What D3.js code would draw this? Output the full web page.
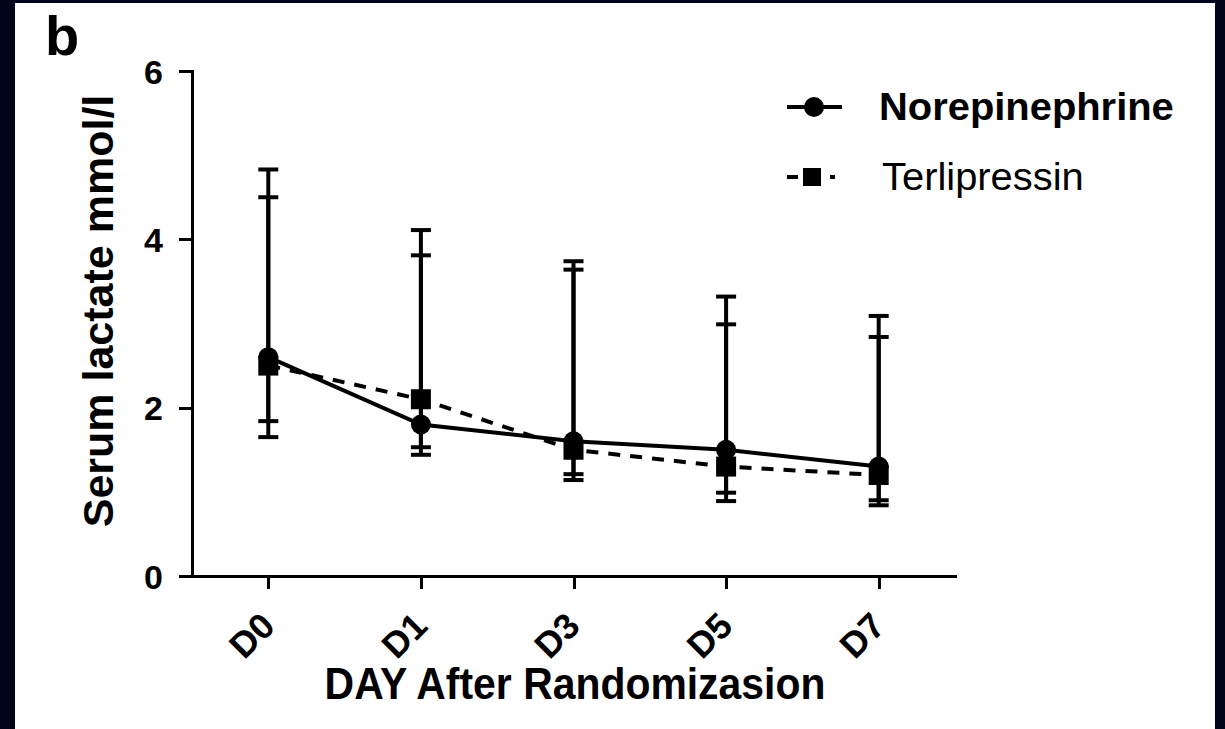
<!DOCTYPE html>
<html>
<head>
<meta charset="utf-8">
<script src="https://cdn.jsdelivr.net/npm/d3@7"></script>
<style>
  html, body { margin: 0; padding: 0; background: #02041a; }
  svg { display: block; }
  text { font-family: "Liberation Sans", Arial, Helvetica, sans-serif; fill: #000; }
</style>
</head>
<body>
<svg id="chart" width="1225" height="729"></svg>
<script>
// Serum lactate by day after randomization (median with range bars)
const days = ["D0", "D1", "D3", "D5", "D7"];
const norepinephrine      = [2.6, 1.8, 1.6, 1.5, 1.3];
const norepinephrineUpper = [4.83, 4.11, 3.74, 3.32, 3.09];
const norepinephrineLower = [1.84, 1.53, 1.21, 0.99, 0.90];
const terlipressin        = [2.5, 2.1, 1.5, 1.3, 1.2];
const terlipressinUpper   = [4.50, 3.81, 3.64, 2.99, 2.84];
const terlipressinLower   = [1.65, 1.44, 1.14, 0.89, 0.84];
const yTicks = [0, 2, 4, 6];

const series = [
  { name: "Norepinephrine", values: norepinephrine, upper: norepinephrineUpper, lower: norepinephrineLower, marker: "circle", dash: null, weight: "bold" },
  { name: "Terlipressin", values: terlipressin, upper: terlipressinUpper, lower: terlipressinLower, marker: "square", dash: "12,10", weight: "normal" }
];

const svg = d3.select("#chart");
const LW = 4;             // mark stroke width

// white panel
svg.append("rect").attr("x", 15).attr("y", 3).attr("width", 1200).attr("height", 726).attr("fill", "#fff");

const x = d3.scalePoint().domain(days).range([192, 955]).padding(0.5);
const y = d3.scaleLinear().domain([0, 6]).range([576, 71]);

// y axis
const yAxis = svg.append("g")
  .attr("transform", "translate(192,0)")
  .call(d3.axisLeft(y).tickValues(yTicks).tickFormat(d3.format("d")).tickSize(13).tickSizeOuter(0));
yAxis.select(".domain").attr("stroke", "#000").attr("stroke-width", 3).attr("stroke-linecap", "square");
yAxis.selectAll(".tick line").attr("stroke", "#000").attr("stroke-width", 3);
yAxis.selectAll(".tick text")
  .attr("x", null).attr("dy", null)
  .attr("text-anchor", "end")
  .attr("font-size", 34).attr("font-weight", "bold")
  .attr("transform", "translate(-29,12)");

// x axis
const xAxis = svg.append("g")
  .attr("transform", "translate(0,576)")
  .call(d3.axisBottom(x).tickSize(13).tickSizeOuter(0));
xAxis.select(".domain").attr("stroke", "#000").attr("stroke-width", 3).attr("stroke-linecap", "square");
xAxis.selectAll(".tick line").attr("stroke", "#000").attr("stroke-width", 3);
xAxis.selectAll(".tick text")
  .attr("y", null).attr("dy", null)
  .attr("text-anchor", "end")
  .attr("font-size", 36).attr("font-weight", "bold")
  .attr("transform", "translate(8,52) rotate(-45)");
svg.selectAll(".domain, .tick line").attr("shape-rendering", "crispEdges");

// axis titles
svg.append("text")
  .attr("transform", "translate(575,699) scale(0.93,1)")
  .attr("text-anchor", "middle").attr("font-size", 44).attr("font-weight", "bold")
  .text("DAY After Randomizasion");
svg.append("text")
  .attr("transform", "translate(113,311) rotate(-90)")
  .attr("text-anchor", "middle").attr("font-size", 43).attr("font-weight", "bold")
  .text("Serum lactate mmol/l");

// panel letter
svg.append("text").attr("x", 45).attr("y", 55)
  .attr("font-size", 56).attr("font-weight", "bold").text("b");

const plot = svg.append("g");

// error bars
const capW = 10;
series.forEach(s => {
  const g = plot.append("g");
  days.forEach((d, i) => {
    const cx = x(d);
    g.append("line").attr("x1", cx).attr("x2", cx)
      .attr("y1", y(s.lower[i])).attr("y2", y(s.upper[i]))
      .attr("stroke", "#000").attr("stroke-width", LW);
    [s.lower[i], s.upper[i]].forEach(v => {
      g.append("line").attr("x1", cx - capW).attr("x2", cx + capW)
        .attr("y1", y(v)).attr("y2", y(v))
        .attr("stroke", "#000").attr("stroke-width", LW);
    });
  });
});

// connecting lines
const line = d3.line().x((v, i) => x(days[i])).y(v => y(v));
series.slice().reverse().forEach(s => {
  plot.append("path").datum(s.values)
    .attr("d", line).attr("fill", "none")
    .attr("stroke", "#000").attr("stroke-width", LW)
    .attr("stroke-dasharray", s.dash);
});

// markers
function drawMarker(g, type, cx, cy) {
  if (type === "circle") {
    g.append("circle").attr("cx", cx).attr("cy", cy).attr("r", 10).attr("fill", "#000");
  } else {
    g.append("rect").attr("x", cx - 10).attr("y", cy - 10).attr("width", 20).attr("height", 20).attr("fill", "#000");
  }
}
series.slice().reverse().forEach(s => {
  s.values.forEach((v, i) => drawMarker(plot, s.marker, x(days[i]), y(v)));
});

// legend
const legend = svg.append("g");
const legendRows = [107, 177];
series.forEach((s, k) => {
  const ly = legendRows[k];
  if (s.marker === "circle") {
    legend.append("line").attr("x1", 787).attr("x2", 842).attr("y1", ly).attr("y2", ly)
      .attr("stroke", "#000").attr("stroke-width", LW);
    drawMarker(legend, "circle", 814, ly);
  } else {
    legend.append("line").attr("x1", 787).attr("x2", 798).attr("y1", ly).attr("y2", ly)
      .attr("stroke", "#000").attr("stroke-width", LW);
    legend.append("rect").attr("x", 803).attr("y", ly - 9).attr("width", 18).attr("height", 18).attr("fill", "#000");
    legend.append("line").attr("x1", 830).attr("x2", 835).attr("y1", ly).attr("y2", ly)
      .attr("stroke", "#000").attr("stroke-width", LW);
  }
  legend.append("text")
    .attr("transform", `translate(${k === 0 ? 879 : 882},${ly + 13}) scale(1.05,1)`)
    .attr("font-size", 38).attr("font-weight", s.weight)
    .text(s.name);
});
</script>
</body>
</html>
